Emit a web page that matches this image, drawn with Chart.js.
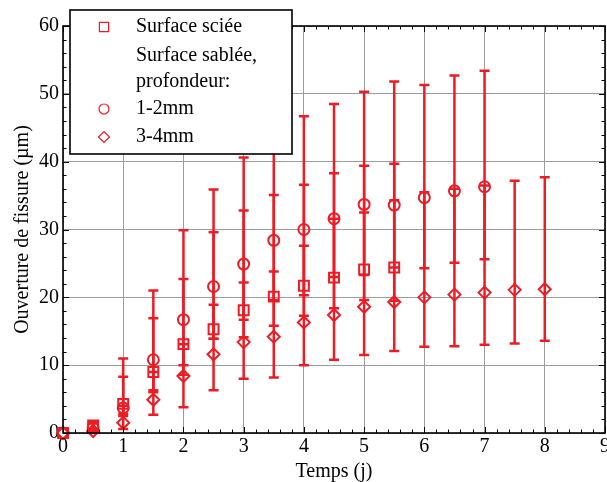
<!DOCTYPE html>
<html>
<head>
<meta charset="utf-8">
<script src="https://cdn.jsdelivr.net/npm/chart.js@4.4.1/dist/chart.umd.min.js"></script>
<style>
html,body{margin:0;padding:0;background:#fff;}
#wrap{width:607px;height:482px;}
</style>
</head>
<body>
<div id="wrap"><canvas id="c"></canvas></div>
<script>
// temps (j)
var temps = [0, 0.5, 1, 1.5, 2, 2.5, 3, 3.5, 4, 4.5, 5, 5.5, 6, 6.5, 7, 7.5, 8];

// Surface sciée
var scie = [0, 1.1, 4.3, 9.0, 13.1, 15.3, 18.1, 20.1, 21.7, 22.9, 24.1, 24.4];
var scieMin = [0, 0.5, 2.8, 6.0, 8.6, 13.9, 14.1, 19.6, 20.3, 18.4, 19.6, 19.5];
var scieMax = [0, 1.6, 8.3, 16.9, 22.7, 29.6, 32.8, 35.1, 36.6, 38.3, 39.4, 39.7];

// sablée 1-2mm
var sab12 = [0, 0.8, 3.7, 10.8, 16.7, 21.6, 24.9, 28.4, 30.0, 31.6, 33.7, 33.6, 34.7, 35.7, 36.3];
var sab12Min = [0, 0.3, 2.5, 6.3, 10.0, 13.9, 16.7, 15.8, 17.3, 23.0, 23.3, 24.4, 24.3, 25.1, 25.6];
var sab12Max = [0, 1.4, 11.0, 21.0, 29.9, 35.9, 40.6, 43.5, 46.7, 48.5, 50.3, 51.8, 51.3, 52.7, 53.4];

// sablée 3-4mm
var sab34 = [0, 0.3, 1.5, 4.9, 8.4, 11.6, 13.4, 14.2, 16.3, 17.4, 18.6, 19.3, 20.0, 20.4, 20.7, 21.1, 21.2];
var sab34Min = [0, 0.1, 0.6, 2.7, 3.8, 6.3, 8.0, 8.2, 10.0, 10.8, 11.5, 12.1, 12.7, 12.8, 13.0, 13.2, 13.6];
var sab34Max = [0, 0.6, 4.0, 9.0, 13.1, 18.9, 22.2, 23.8, 27.6, 31.6, 32.5, 34.3, 35.5, 36.0, 36.5, 37.2, 37.7];

// graduations x
var xLabels = [0, 1, 2, 3, 4, 5, 6, 7, 8, 9];

var rouge = '#ed1c24';
var police = '"Liberation Serif", "Times New Roman", serif';

function pts(vals){
    var out = [];
    for(var i=0;i<vals.length;i++){
        out.push({x: temps[i], y: vals[i]});
    }
    return out;
}

function serie(label, vals, mn, mx, style, r){
    return {
        label: label,
        data: pts(vals),
        errMin: mn,
        errMax: mx,
        showLine: false,
        pointStyle: style,
        pointRadius: r,
        pointHoverRadius: r,
        pointBorderWidth: 2,
        borderColor: rouge,
        backgroundColor: 'rgba(0,0,0,0)',
        clip: false
    };
}

// barres d'erreur
var errorBars = {
    id: 'errorBars',
    beforeDatasetsDraw: function(chart){
        var ctx = chart.ctx, xs = chart.scales.x, ys = chart.scales.y;
        ctx.save();
        ctx.strokeStyle = rouge;
        ctx.lineWidth = 2.5;
        chart.data.datasets.forEach(function(ds){
            ds.data.forEach(function(p, i){
                var lo = ds.errMin[i], hi = ds.errMax[i];
                if(hi - lo <= 0) return;
                var px = xs.getPixelForValue(p.x);
                var y1 = ys.getPixelForValue(lo), y2 = ys.getPixelForValue(hi);
                ctx.beginPath();
                ctx.moveTo(px, y1); ctx.lineTo(px, y2);
                ctx.moveTo(px-5, y1); ctx.lineTo(px+5, y1);
                ctx.moveTo(px-5, y2); ctx.lineTo(px+5, y2);
                ctx.stroke();
            });
        });
        ctx.restore();
    }
};

// cadre + graduations intérieures + légende
var cadre = {
    id: 'cadre',
    afterDatasetsDraw: function(chart){
        var ctx = chart.ctx, a = chart.chartArea, xs = chart.scales.x, ys = chart.scales.y;
        ctx.save();
        ctx.strokeStyle = '#000';
        ctx.lineWidth = 1;
        ctx.beginPath();
        var v, p, len;
        for(v=0; v<=9.001; v+=0.2){
            p = Math.round(xs.getPixelForValue(v)) + 0.5;
            len = Math.abs(v - Math.round(v)) < 0.01 ? 6 : 3.5;
            ctx.moveTo(p, a.bottom); ctx.lineTo(p, a.bottom - len);
            ctx.moveTo(p, a.top); ctx.lineTo(p, a.top + len);
        }
        for(v=0; v<=60.001; v+=2){
            p = Math.round(ys.getPixelForValue(v)) + 0.5;
            len = (v % 10 === 0) ? 6 : 3.5;
            ctx.moveTo(a.left, p); ctx.lineTo(a.left + len, p);
            ctx.moveTo(a.right, p); ctx.lineTo(a.right - len, p);
        }
        ctx.stroke();
        ctx.lineWidth = 1.6;
        ctx.strokeRect(a.left, a.top, a.right - a.left, a.bottom - a.top);

        // étiquettes de l'axe x
        ctx.fillStyle = '#000';
        ctx.font = '20px ' + police;
        ctx.textAlign = 'center';
        ctx.textBaseline = 'top';
        xLabels.forEach(function(t){
            ctx.fillText(String(t), xs.getPixelForValue(t), a.bottom + 4);
        });
        ctx.restore();
    },
    afterDraw: function(chart){
        var ctx = chart.ctx;
        ctx.save();
        ctx.fillStyle = '#fff';
        ctx.fillRect(70, 10, 222, 144);
        ctx.strokeStyle = '#000';
        ctx.lineWidth = 1.6;
        ctx.strokeRect(70, 10, 222, 144);
        ctx.font = '20px ' + police;
        ctx.textBaseline = 'middle';
        var lignes = [
            ['Surface sciée', 27, 'rect', 6.5],
            ['Surface sablée,', 56, null, 0],
            ['profondeur:', 82, null, 0],
            ['1-2mm', 109, 'circle', 5],
            ['3-4mm', 137, 'rectRot', 5.5]
        ];
        lignes.forEach(function(l){
            ctx.fillStyle = '#000';
            ctx.fillText(l[0], 136, l[1]);
            if(l[2]){
                ctx.fillStyle = '#fff';
                ctx.strokeStyle = rouge;
                ctx.lineWidth = 1.2;
                Chart.helpers.drawPoint(ctx, {pointStyle: l[2], radius: l[3], borderWidth: 1.2}, 104, l[1]);
            }
        });
        ctx.restore();
    }
};

new Chart(document.getElementById('c'), {
    type: 'scatter',
    data: {
        datasets: [
            serie('Surface sciée', scie, scieMin, scieMax, 'rect', 7),
            serie('1-2mm', sab12, sab12Min, sab12Max, 'circle', 5.5),
            serie('3-4mm', sab34, sab34Min, sab34Max, 'rectRot', 6)
        ]
    },
    options: {
        responsive: true,
        maintainAspectRatio: false,
        animation: false,
        layout: {autoPadding: false, padding: {top: 26, right: 2, left: 0, bottom: 0}},
        plugins: {
            legend: {display: false},
            tooltip: {enabled: false}
        },
        scales: {
            x: {
                type: 'linear', min: 0, max: 9,
                ticks: {stepSize: 1, display: false},
                grid: {color: '#9c9c9c', lineWidth: 1, drawTicks: false},
                border: {display: false},
                title: {display: true, text: 'Temps (j)', color: '#000', padding: {top: 0, bottom: -2}, font: {family: police, size: 20}},
                afterFit: function(s){ s.height = 49; }
            },
            y: {
                type: 'linear', min: 0, max: 60,
                ticks: {stepSize: 10, color: '#000', padding: 4, font: {family: police, size: 20}},
                grid: {color: '#9c9c9c', lineWidth: 1, drawTicks: false},
                border: {display: false},
                title: {display: true, text: 'Ouverture de fissure (µm)', color: '#000', padding: {top: 11, bottom: 0}, font: {family: police, size: 20}},
                afterFit: function(s){ s.width = 63; }
            }
        }
    },
    plugins: [errorBars, cadre]
});
</script>
</body>
</html>
